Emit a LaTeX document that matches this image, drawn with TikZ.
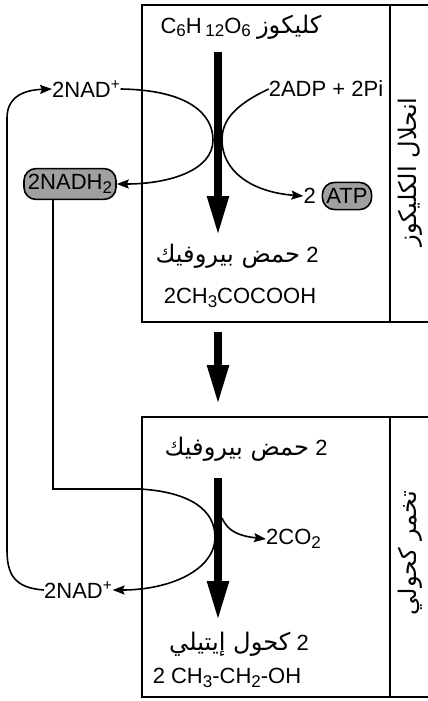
\documentclass[tikz,border=0pt]{standalone}
\usepackage{fontspec}
\setmainfont{Liberation Sans}
\newfontfamily\arabicfont[Script=Arabic,Scale=1.1]{DejaVu Sans}
\TeXXeTstate=1
\usetikzlibrary{arrows.meta}
\definecolor{boxgrey}{HTML}{A0A0A0}
\newcommand{\chemsub}[1]{\raisebox{-0.3ex}{\fontsize{17}{20}\selectfont #1}}
\tikzset{
  lbl/.style={inner sep=0pt, font=\fontsize{22}{26}\selectfont},
  pill/.style={lbl, draw, line width=1.6pt, fill=boxgrey, rounded corners=12pt, inner xsep=4pt, inner ysep=6pt},
  flow/.style={line width=1.6pt, -{Stealth[length=12pt,width=9pt,inset=2pt]}},
  bigarrow/.style={line width=8pt, -{Triangle[length=40pt,width=20pt]}},
  frame/.style={line width=2pt}
}
\begin{document}
\begin{tikzpicture}[x=1pt, y=-1pt]
\useasboundingbox (0,0) rectangle (428,701);

% glycolysis box
\begin{scope}
\draw[frame] (428,5) -- (142,5) -- (142,322) -- (428,322);
\draw[frame] (390,5) -- (390,322);
\node[lbl] (glu) at (241,27) {C\chemsub{6}H\,\chemsub{12}O\chemsub{6} {\arabicfont\beginR كليكوز\endR}};
\node[lbl, anchor=west] (nadT) at (52,89) {2NAD\textsuperscript{+}};
\node[lbl] (adp) at (326,89) {2ADP + 2Pi};
\node[pill] (nadh) at (70,184) {2NADH\chemsub{2}};
\node[pill] (atp) at (347,196) {ATP};
\node[lbl, anchor=east] (two) at (316,196) {2};
\node[lbl] (pyr1) at (237,256) {\beginR 2 {\arabicfont حمض بيروفيك}\endR};
\node[lbl] (pyrF) at (240,298) {2CH\chemsub{3}COCOOH};
\node[lbl, rotate=90] (side1) at (410,172) {\arabicfont\beginR انحلال الكليكوز\endR};
\coordinate (a1s) at (218,52);
\coordinate (a1e) at (218,236);
\draw[bigarrow] (a1s) -- (a1e);
\draw[flow] (nadT.east) .. controls (190,90) and (213,115) .. (213,140)
  .. controls (213,170) and (170,184) .. (nadh.east);
\draw[flow] (adp.west) .. controls (235,105) and (222,120) .. (222,140)
  .. controls (222,170) and (250,192) .. (two.west);
\end{scope}

% link between boxes
\coordinate (a2s) at (218,332);
\coordinate (a2e) at (218,405);
\draw[bigarrow] (a2s) -- (a2e);

% fermentation box
\begin{scope}
\draw[frame] (428,417) -- (142,417) -- (142,697) -- (428,697);
\draw[frame] (390,417) -- (390,697);
\node[lbl] (pyr2) at (246,449) {\beginR 2 {\arabicfont حمض بيروفيك}\endR};
\node[lbl, anchor=west] (co2) at (266,539) {2CO\chemsub{2}};
\node[lbl, anchor=west] (nadB) at (44,590) {2NAD\textsuperscript{+}};
\node[lbl] (eth) at (239,644) {\beginR 2 {\arabicfont كحول إيتيلي}\endR};
\node[lbl] (ethF) at (227,678) {2 CH\chemsub{3}-CH\chemsub{2}-OH};
\node[lbl, rotate=90] (side2) at (410,553) {\arabicfont\beginR تخمر كحولي\endR};
\coordinate (a3s) at (218,478);
\coordinate (a3e) at (218,621);
\draw[bigarrow] (a3s) -- (a3e);
\coordinate (bend) at (53,489);
\draw[flow] (nadh.south -| bend) -- (bend) -- (140,489)
  .. controls (190,492) and (215,510) .. (215,537)
  .. controls (215,570) and (170,590) .. (nadB.east);
\coordinate (co2s) at (222,518);
\draw[flow] (co2s) .. controls (228,532) and (240,536) .. (co2.west);
\end{scope}

% NAD+ recycled
\draw[flow] (nadB.west) .. controls (15,588) and (7,575) .. (7,550)
  -- (7,118) .. controls (7,98) and (22,90) .. (nadT.west);
\end{tikzpicture}
\end{document}
